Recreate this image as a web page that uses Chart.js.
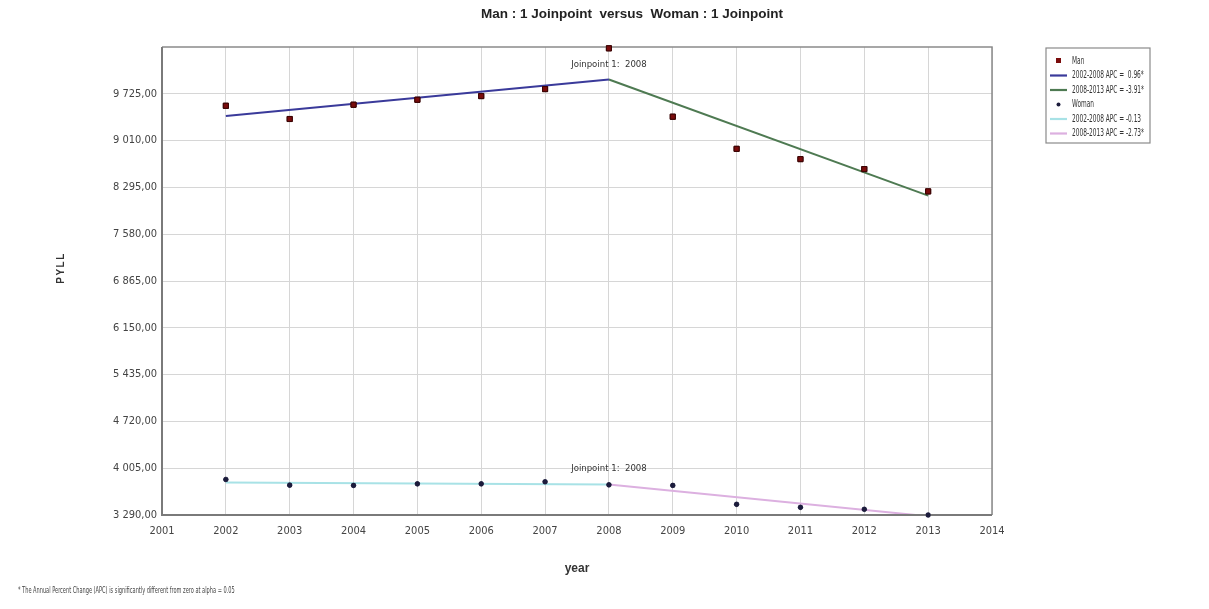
<!DOCTYPE html>
<html>
<head>
<meta charset="utf-8">
<script src="https://cdn.jsdelivr.net/npm/chart.js@4/dist/chart.umd.min.js"></script>
<style>
html,body{margin:0;padding:0;background:#fff;}
#wrap{position:relative;width:1209px;height:609px;}
</style>
</head>
<body>
<div id="wrap"><canvas id="c" width="1209" height="609"></canvas></div>
<script>
// ---- data ----
const years = [2002, 2003, 2004, 2005, 2006, 2007, 2008, 2009, 2010, 2011, 2012, 2013];
const manObserved   = [9542, 9340, 9558, 9634, 9690, 9797, 10420, 9375, 8884, 8727, 8575, 8234];
const womanObserved = [3833, 3746, 3742, 3766, 3766, 3797, 3751, 3742, 3453, 3407, 3377, 3290];

const seg1Years = [2002, 2008];
const seg2Years = [2008, 2013];
const manSeg1   = [9386, 9943];
const manSeg2   = [9943, 8169];
const womanSeg1 = [3787, 3757];
const womanSeg2 = [3757, 3271];

const joinpointYear = 2008;
const xTicks = [2001, 2002, 2003, 2004, 2005, 2006, 2007, 2008, 2009, 2010, 2011, 2012, 2013, 2014];
const yTicks = [3290, 4005, 4720, 5435, 6150, 6865, 7580, 8295, 9010, 9725];
const yMax = 10440;

const titleText = 'Man : 1 Joinpoint  versus  Woman : 1 Joinpoint';
const footText = '* The Annual Percent Change (APC) is significantly different from zero at alpha = 0.05';
const legendLabels = ['Man', '2002-2008 APC =  0.96*', '2008-2013 APC = -3.91*',
                      'Woman', '2002-2008 APC = -0.13', '2008-2013 APC = -2.73*'];
const joinpointLabel = 'Joinpoint 1:  2008';
const yTitle = 'PYLL';

const NARROW = "'Liberation Sans Narrow', 'DejaVu Sans Condensed', 'Arial Narrow', 'Liberation Sans', sans-serif";

function pts(xs, ys) { return xs.map((x, i) => ({x: x, y: ys[i]})); }
function fmtY(v) {
  const s = Math.round(v).toString().replace(/\B(?=(\d{3})+(?!\d))/g, ' ');
  return s + ',00';
}
function squeezeText(ctx, text, x, y, sx) {
  ctx.save();
  ctx.translate(x, y);
  ctx.scale(sx, 1);
  ctx.fillText(text, 0, 0);
  ctx.restore();
}

const datasets = [
  {label: legendLabels[0], data: pts(years, manObserved), showLine: false, clip: false,
   pointStyle: 'rect', pointRadius: 3.6, backgroundColor: '#7a0c0c', borderColor: '#3a0505', borderWidth: 1},
  {label: legendLabels[3], data: pts(years, womanObserved), showLine: false, clip: false,
   pointStyle: 'circle', pointRadius: 2.3, backgroundColor: '#1c1c3c', borderColor: '#1c1c3c', borderWidth: 0.5},
  {label: legendLabels[1], data: pts(seg1Years, manSeg1), showLine: true, pointRadius: 0,
   borderColor: '#3a3a9a', borderWidth: 2},
  {label: legendLabels[2], data: pts(seg2Years, manSeg2), showLine: true, pointRadius: 0,
   borderColor: '#4e7a52', borderWidth: 2},
  {label: legendLabels[4], data: pts(seg1Years, womanSeg1), showLine: true, pointRadius: 0,
   borderColor: '#a8e2e6', borderWidth: 2},
  {label: legendLabels[5], data: pts(seg2Years, womanSeg2), showLine: true, pointRadius: 0,
   borderColor: '#dcb0e0', borderWidth: 2}
];

const decor = {
  id: 'decor',
  afterDatasetsDraw(chart) {
    const ctx = chart.ctx;
    const a = chart.chartArea;
    const xs = chart.scales.x, ys = chart.scales.y;
    ctx.save();
    // frame
    ctx.strokeStyle = '#8a8a8a';
    ctx.lineWidth = 1.5;
    ctx.beginPath();
    ctx.moveTo(a.left, a.top); ctx.lineTo(a.right, a.top); ctx.lineTo(a.right, a.bottom);
    ctx.stroke();
    ctx.strokeStyle = '#7a7a7a';
    ctx.lineWidth = 2;
    ctx.beginPath();
    ctx.moveTo(a.left, a.top); ctx.lineTo(a.left, a.bottom); ctx.lineTo(a.right, a.bottom);
    ctx.stroke();

    // redraw observed points on top of frame
    [0, 1].forEach(i => {
      const meta = chart.getDatasetMeta(i);
      meta.data.forEach(el => el.draw(ctx));
    });

    // joinpoint labels
    ctx.fillStyle = '#333';
    ctx.font = "9.5px " + NARROW;
    ctx.textAlign = 'center';
    ctx.textBaseline = 'middle';
    const jx = xs.getPixelForValue(joinpointYear);
    ctx.fillText(joinpointLabel, jx, ys.getPixelForValue(manSeg1[1]) - 15);
    ctx.fillText(joinpointLabel, jx, ys.getPixelForValue(womanSeg1[1]) - 16);

    // title
    ctx.fillStyle = '#222';
    ctx.font = "bold 13.5px 'Liberation Sans', Arial, sans-serif";
    ctx.fillText(titleText, 632, 14);

    // y axis title
    ctx.save();
    ctx.translate(61, 268);
    ctx.rotate(-Math.PI / 2);
    ctx.font = "bold 10px 'Liberation Sans', Arial, sans-serif";
    ctx.letterSpacing = '1.5px';
    ctx.fillStyle = '#333';
    ctx.textAlign = 'center';
    ctx.fillText(yTitle, 0, 0);
    ctx.restore();

    // footnote
    ctx.fillStyle = '#444';
    ctx.font = "8px " + NARROW;
    ctx.textAlign = 'left';
    squeezeText(ctx, footText, 18, 591, 0.7);

    // legend
    const lx = 1046, ly = 48, lw = 104, lh = 95;
    ctx.strokeStyle = '#8a8a8a';
    ctx.lineWidth = 1.2;
    ctx.strokeRect(lx, ly, lw, lh);
    const order = [0, 2, 3, 1, 4, 5];
    const rowY = [61, 75.5, 90, 104.5, 119, 133.5];
    ctx.font = "10px " + NARROW;
    order.forEach((di, r) => {
      const ds = chart.data.datasets[di];
      const y = rowY[r];
      if (ds.showLine) {
        ctx.strokeStyle = ds.borderColor;
        ctx.lineWidth = 2.2;
        ctx.beginPath(); ctx.moveTo(lx + 4, y); ctx.lineTo(lx + 21, y); ctx.stroke();
      } else {
        ctx.fillStyle = ds.backgroundColor;
        if (ds.pointStyle !== 'circle') ctx.fillRect(lx + 10, y - 3, 5, 5);
        else { ctx.beginPath(); ctx.arc(lx + 12.5, y, 2, 0, Math.PI * 2); ctx.fill(); }
      }
      ctx.fillStyle = '#333';
      ctx.textAlign = 'left';
      squeezeText(ctx, ds.label, lx + 26, y, 0.65);
    });
    ctx.restore();
  }
};

new Chart(document.getElementById('c'), {
  type: 'scatter',
  data: {datasets: datasets},
  options: {
    responsive: false,
    animation: false,
    events: [],
    layout: {padding: {left: 0, top: 47, right: 217, bottom: 0}},
    plugins: {legend: {display: false}, tooltip: {enabled: false}, title: {display: false}},
    scales: {
      x: {
        type: 'linear', min: 2001, max: 2014,
        afterBuildTicks: s => { s.ticks = xTicks.map(v => ({value: v})); },
        afterFit: s => { s.height = 94; },
        grid: {color: '#d6d6d6', lineWidth: 1, drawTicks: false},
        border: {display: false},
        ticks: {padding: 10, color: '#444', font: {family: NARROW, size: 11}, callback: v => String(v), maxRotation: 0},
        title: {display: true, text: 'year', color: '#333', font: {family: "'Liberation Sans', Arial, sans-serif", size: 12, weight: 'bold'}, padding: {top: 0, bottom: 33}}
      },
      y: {
        type: 'linear', min: yTicks[0], max: yMax,
        afterBuildTicks: s => { s.ticks = yTicks.map(v => ({value: v})); },
        afterFit: s => { s.width = 162; },
        grid: {color: '#d6d6d6', lineWidth: 1, drawTicks: false},
        border: {display: false},
        ticks: {padding: 5, color: '#444', font: {family: NARROW, size: 11}, callback: v => fmtY(v)},
        title: {display: false}
      }
    }
  },
  plugins: [decor]
});
</script>
</body>
</html>
